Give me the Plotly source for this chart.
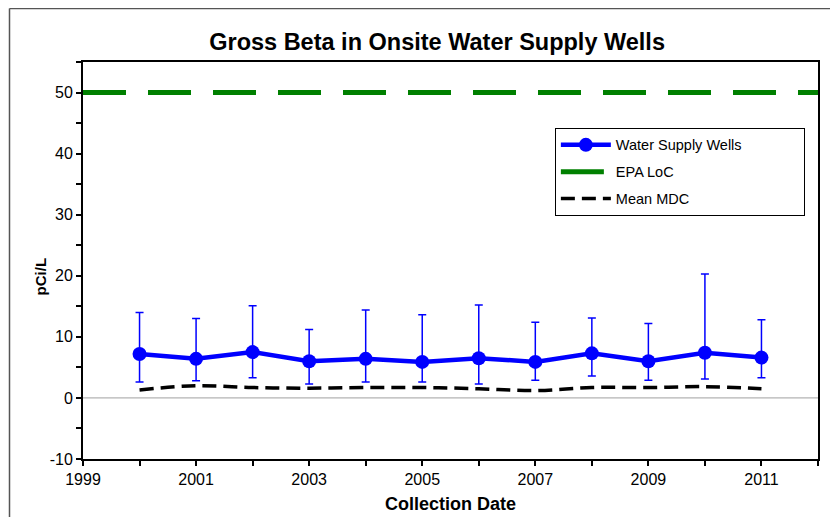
import plotly.graph_objects as go

# Datos
anios = [2000, 2001, 2002, 2003, 2004, 2005, 2006, 2007, 2008, 2009, 2010, 2011]
beta_media = [7.2, 6.4, 7.5, 6.0, 6.4, 5.9, 6.5, 5.9, 7.3, 6.0, 7.4, 6.6]
beta_max = [14.0, 13.0, 15.1, 11.2, 14.4, 13.6, 15.2, 12.4, 13.1, 12.2, 20.3, 12.8]
beta_min = [2.6, 2.8, 3.3, 2.3, 2.6, 2.6, 2.3, 2.9, 3.6, 2.9, 3.1, 3.3]
mdc_media = [1.3, 2.0, 1.7, 1.6, 1.7, 1.7, 1.5, 1.2, 1.7, 1.7, 1.85, 1.5]
epa_anios = [1999, 2012]
epa_loc = [50, 50]
y_ticks = [-10, 0, 10, 20, 30, 40, 50]
y_etiquetas = ['-10', '0', '10', '20', '30', '40', '50']

error_sup = [mx - m for mx, m in zip(beta_max, beta_media)]
error_inf = [m - mn for m, mn in zip(beta_media, beta_min)]

fig = go.Figure()

# Linea cero gris
fig.add_trace(go.Scatter(x=epa_anios, y=[0, 0], mode='lines', showlegend=False,
                         line=dict(color='#a0a0a0', width=1), hoverinfo='skip'))

fig.add_trace(go.Scatter(x=anios, y=beta_media, mode='lines+markers',
                         name='Water Supply Wells' + '\u00a0' * 14, legendgroup='a',
                         line=dict(color='#0000ff', width=4.5),
                         marker=dict(color='#0000ff', size=14),
                         error_y=dict(type='data', symmetric=False, array=error_sup,
                                      arrayminus=error_inf, color='#0000ff',
                                      thickness=1.5, width=4)))

fig.add_trace(go.Scatter(x=epa_anios, y=epa_loc, mode='lines', name='EPA LoC', legendgroup='b',
                         line=dict(color='#008000', width=5, dash='43px,22px')))

fig.add_trace(go.Scatter(x=anios, y=mdc_media, mode='lines', name='Mean MDC', legendgroup='c',
                         line=dict(color='black', width=3.5, dash='14px,7px', shape='spline')))

fuente = 'Liberation Sans, Arial, sans-serif'

# la pagina deja 8px de margen: figura mas chica para que no salgan barras de desplazamiento
fig.update_layout(
    width=822, height=509,
    margin=dict(l=75, r=12, t=54, b=58, autoexpand=False),
    paper_bgcolor='white', plot_bgcolor='white',
    font=dict(family=fuente, size=16, color='black'),
    title=dict(text='<b>Gross Beta in Onsite Water Supply Wells</b>', x=0.522, xanchor='center',
               y=0.933, yanchor='middle', font=dict(size=23.5)),
    legend=dict(x=0.642, y=0.834, xanchor='left', yanchor='top',
                bordercolor='black', borderwidth=1, bgcolor='white',
                font=dict(size=14.5), traceorder='grouped', tracegroupgap=5, itemwidth=50),
    # marco exterior: solo arriba e izquierda se ven
    shapes=[dict(type='line', xref='paper', yref='paper', x0=-0.1, x1=1.1, y0=1.135, y1=1.135,
                 line=dict(color='#555555', width=1.5)),
            dict(type='line', xref='paper', yref='paper', x0=-0.1, x1=-0.1, y0=-0.3, y1=1.135,
                 line=dict(color='#555555', width=1.5))],
    annotations=[dict(text='<b>pCi/L</b>', textangle=-90, xref='paper', yref='paper',
                      x=-0.0585, y=0.46, xanchor='center', yanchor='middle',
                      showarrow=False, font=dict(size=15))],
)

fig.update_xaxes(range=[1999, 2012], tick0=1999, dtick=2, ticks='outside', ticklen=5,
                 tickwidth=1.5, tickcolor='black', showgrid=False, zeroline=False,
                 showline=True, linecolor='black', linewidth=2, mirror=True, automargin=False,
                 minor=dict(dtick=1, tick0=1999, ticks='outside', ticklen=5, tickcolor='black'),
                 title=dict(text='<b>Collection Date</b>', font=dict(size=18), standoff=10))

fig.update_yaxes(range=[-10, 55], tickvals=y_ticks, ticktext=y_etiquetas, ticks='outside', ticklen=5,
                 tickwidth=1.5, tickcolor='black', showgrid=False, zeroline=False,
                 showline=True, linecolor='black', linewidth=2, mirror=True, automargin=False,
                 minor=dict(dtick=5, tick0=-10, ticks='outside', ticklen=5, tickcolor='black'))

fig.write_html("out.html")
